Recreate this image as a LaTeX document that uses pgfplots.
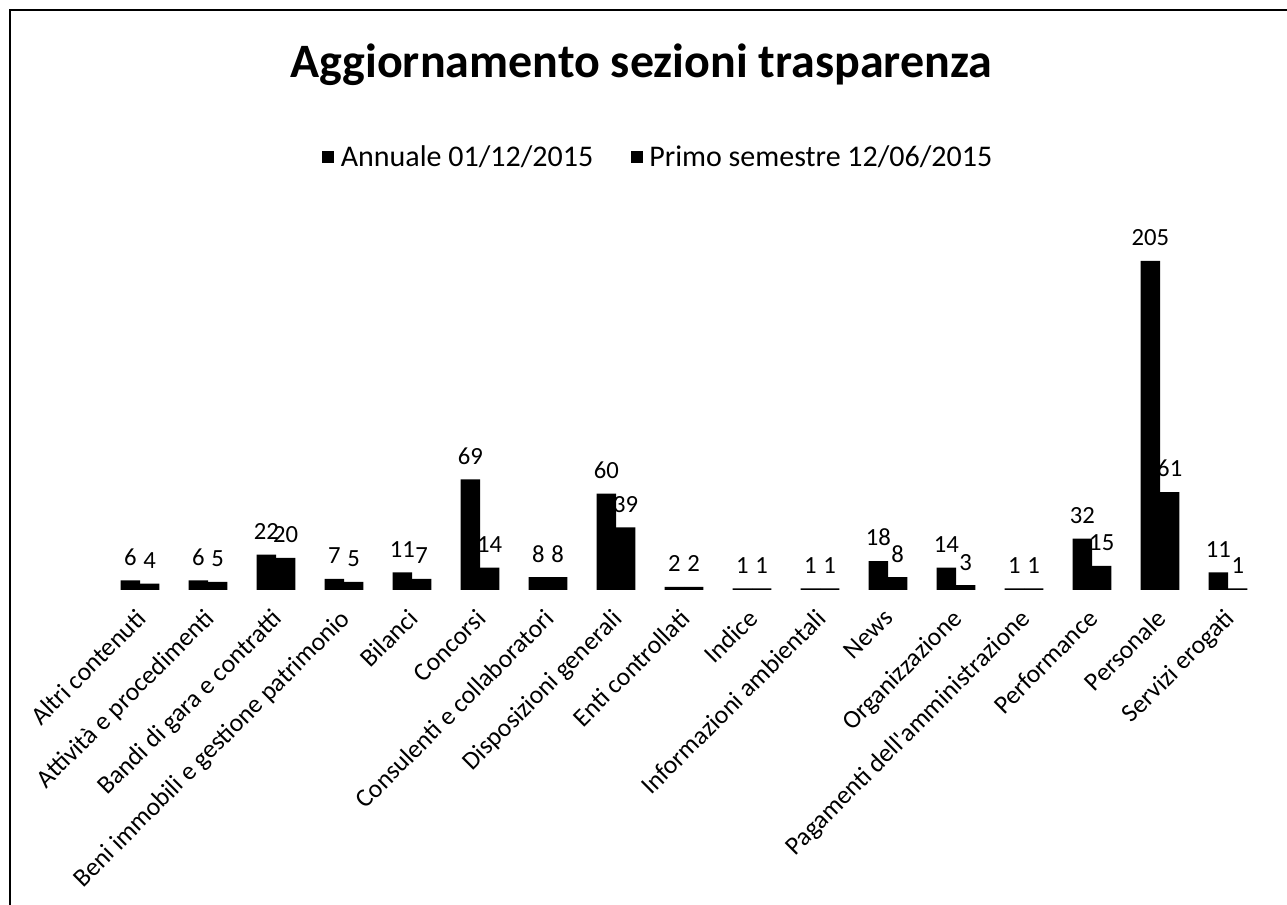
\documentclass[border=0pt]{standalone}
\usepackage{fontspec}
\setmainfont{Carlito}[Ligatures=TeXOff]
\usepackage{pgfplots}
\usepackage{pgfplotstable}
\pgfplotsset{compat=1.18}
\pgfplotstableread{
x a b
0 6 4
1 6 5
2 22 20
3 7 5
4 11 7
5 69 14
6 8 8
7 60 39
8 2 2
9 1 1
10 1 1
11 18 8
12 14 3
13 1 1
14 32 15
15 205 61
16 11 1
}\datatable
\begin{document}
\begin{tikzpicture}
\useasboundingbox (0,0) rectangle (965.25pt,678.75pt);
\draw[black, line width=0.9pt] (7.5pt,-10pt) -- (7.5pt,671.25pt) -- (975pt,671.25pt);
\begin{axis}[
  at={(79.5pt,236.25pt)}, anchor=south west,
  scale only axis, width=867pt, height=288.9pt,
  xmin=-0.5, xmax=16.5, ymin=0, ymax=240,
  ybar=0pt, bar width=14.6pt,
  axis y line=none, axis x line*=bottom, x axis line style={draw=none},
  major tick length=0pt,
  xtick={0,...,16},
  xticklabels={Altri contenuti, Attività e procedimenti, Bandi di gara e contratti, Beni immobili e gestione patrimonio, Bilanci, Concorsi, Consulenti e collaboratori, Disposizioni generali, Enti controllati, Indice, Informazioni ambientali, News, Organizzazione, Pagamenti dell'amministrazione, Performance, Personale, Servizi erogati},
  xticklabel style={xshift=-4pt, yshift=-13pt, rotate=45, anchor=north east, inner sep=0pt, font=\fontsize{19.3}{21}\selectfont},
  nodes near coords,
  /pgf/number format/assume math mode=true,
  every node near coord/.append style={font=\fontsize{18.5}{20}\selectfont, anchor=south, inner sep=0pt, yshift=11pt, black},
  legend style={at={(0.478,1.124)}, anchor=center, draw=none, fill=none, legend columns=2,
    font=\fontsize{22.5}{24}\selectfont,
    /tikz/every odd column/.append style={column sep=3pt},
    /tikz/every even column/.append style={column sep=26pt}},
  legend image code/.code={\fill[black] (0pt,-4.5pt) rectangle (9pt,4.5pt);},
]
\addplot[fill=black, draw=none] table[x=x, y=a] {\datatable};
\addplot[fill=black, draw=none] table[x=x, y=b] {\datatable};
\legend{Annuale 01/12/2015, Primo semestre 12/06/2015}
\end{axis}
\node[font=\fontsize{36}{40}\selectfont\bfseries] at (481pt,630pt) {Aggiornamento sezioni trasparenza};
\end{tikzpicture}
\end{document}
